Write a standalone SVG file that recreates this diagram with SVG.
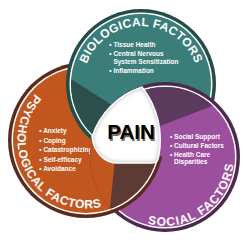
<svg xmlns="http://www.w3.org/2000/svg" width="250" height="243" viewBox="0 0 250 243">
<style>
.t{font-family:"Liberation Sans",Arial,sans-serif;font-weight:bold;fill:#fff}
.b{font-size:6.5px}
.h{font-size:12px}
.wl{fill:#fff}
</style>
<defs>
<clipPath id="cTealOuter"><circle cx="141" cy="84" r="75"/></clipPath>
<clipPath id="cTealInner"><circle cx="141" cy="84" r="70"/></clipPath>
<clipPath id="cPurpleOuter"><circle cx="165" cy="157" r="75"/></clipPath>
<clipPath id="cPurpleInner"><circle cx="165" cy="157" r="70"/></clipPath>
<clipPath id="cOrangeInner"><circle cx="86" cy="140" r="73"/></clipPath>
<mask id="mOrangeFront" maskUnits="userSpaceOnUse" x="0" y="0" width="250" height="243">
<circle cx="165" cy="157" r="75" fill="#fff"/>
<circle cx="141" cy="84" r="75" fill="#000"/>
</mask>
<filter id="bevel" x="-10%" y="-10%" width="120%" height="120%">
<feGaussianBlur in="SourceAlpha" stdDeviation="2.5" result="b"/>
<feComposite in="SourceAlpha" in2="b" operator="out" result="e"/>
<feFlood flood-color="#7a7a7a" result="c"/>
<feComposite in="c" in2="e" operator="in" result="s"/>
<feMerge><feMergeNode in="SourceGraphic"/><feMergeNode in="s"/></feMerge>
</filter>
<filter id="soft" x="-20%" y="-20%" width="140%" height="140%"><feGaussianBlur stdDeviation="0.7"/></filter>
<path id="pBio" d="M83,84 A58,58 0 0 1 199,84"/>
<path id="pPsy" d="M50.21,81.60 A68.5,68.5 0 0 0 119.73,199.62"/>
<path id="pSoc" d="M109.18,197.56 A69,69 0 0 0 222.20,118.42"/>
<path id="center" d="M142,87 A78,78 0 0 0 92,137 C94,152 104,163 118,163 L152,163 Q158,163 158.5,157 A85,85 0 0 0 142,87 Z"/>
</defs>

<g id="psychological">
<circle cx="86" cy="140" r="78" fill="#5a2b1d"/>
<circle cx="86" cy="140" r="74.5" class="wl"/>
<circle cx="86" cy="140" r="73" fill="#c1561f"/>
<text class="t h" letter-spacing="0.4"><textPath href="#pPsy" startOffset="50%" text-anchor="middle">PSYCHOLOGICAL FACTORS</textPath></text>
<text class="t b" x="39.3" y="133.3">• Anxiety</text>
<text class="t b" x="39.3" y="142.5">• Coping</text>
<text class="t b" x="39.3" y="152">• Catastrophizing</text>
<text class="t b" x="39.3" y="161.5">• Self-efficacy</text>
<text class="t b" x="39.3" y="170.7">• Avoidance</text>
</g>

<g id="biological">
<circle cx="141" cy="84" r="75" fill="#234d49"/>
<circle cx="141" cy="84" r="71.5" class="wl"/>
<circle cx="141" cy="84" r="70" fill="#3b7e79"/>
<text class="t h" letter-spacing="0.3"><textPath href="#pBio" startOffset="50%" text-anchor="middle">BIOLOGICAL FACTORS</textPath></text>
<text class="t b" x="109.3" y="47">• Tissue Health</text>
<text class="t b" x="109.3" y="56">• Central Nervous</text>
<text class="t b" x="113.4" y="63.5">System Sensitization</text>
<text class="t b" x="109.3" y="73">• Inflammation</text>
</g>

<g id="social">
<circle cx="165" cy="157" r="75" fill="#4c2a4d"/>
<circle cx="165" cy="157" r="71.5" class="wl"/>
<circle cx="165" cy="157" r="70" fill="#9c4f9d"/>
<text class="t h" letter-spacing="0.95"><textPath href="#pSoc" startOffset="50%" text-anchor="middle">SOCIAL FACTORS</textPath></text>
<text class="t b" x="170" y="138.5">• Social Support</text>
<text class="t b" x="170" y="147.7">• Cultural Factors</text>
<text class="t b" x="170" y="156.7">• Health Care</text>
<text class="t b" x="174.1" y="164.2">Disparities</text>
</g>

<g id="psychological-front" mask="url(#mOrangeFront)">
<circle cx="86" cy="140" r="78" fill="#5a2b1d"/>
<circle cx="86" cy="140" r="74.5" class="wl"/>
<circle cx="86" cy="140" r="73" fill="#c1561f"/>
</g>

<g id="overlaps">
<g clip-path="url(#cTealInner)">
<polygon points="40,59.2 130,116.5 130,175 40,175" fill="#2d4f4b"/>
</g>
<g clip-path="url(#cPurpleInner)"><g clip-path="url(#cTealOuter)">
<polygon points="135,135.4 235,97.5 235,60 135,60" fill="#5b3a5d"/>
</g></g>
<g clip-path="url(#cOrangeInner)"><g clip-path="url(#cPurpleOuter)">
<polygon points="117.1,140 107.6,230 200,230 200,140" fill="#5d3a34"/>
</g></g>
</g>

<g id="pain">
<use href="#center" fill="#fff" filter="url(#bevel)"/>
<use href="#center" fill="none" stroke="#fff" stroke-width="1.5"/>
<text x="132.3" y="140.6" text-anchor="middle" font-family="Liberation Sans, Arial, sans-serif" font-weight="bold" font-size="20.5" fill="#6f6f6f" filter="url(#soft)">PAIN</text>
<text x="131" y="139" text-anchor="middle" font-family="Liberation Sans, Arial, sans-serif" font-weight="bold" font-size="20.5" fill="#000">PAIN</text>
</g>
</svg>
